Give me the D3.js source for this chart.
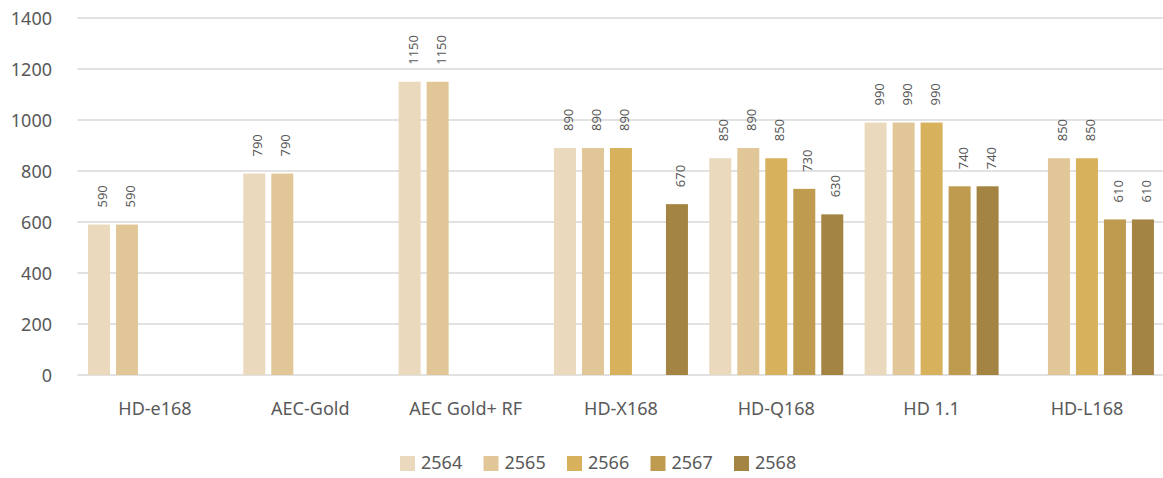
<!DOCTYPE html>
<html><head><meta charset="utf-8">
<script src="https://cdn.jsdelivr.net/npm/d3@7"></script>
<style>
html,body{margin:0;padding:0;background:#fff;}
text{font-family:"Noto Sans",sans-serif;fill:#595959;}
</style></head>
<body>
<svg id="chart" width="1163" height="478"></svg>
<script>
const categories = ["HD-e168","AEC-Gold","AEC Gold+ RF","HD-X168","HD-Q168","HD 1.1","HD-L168"];
const years = ["2564","2565","2566","2567","2568"];
const v2564 = [590, 790, 1150, 890, 850, 990, null];
const v2565 = [590, 790, 1150, 890, 890, 990, 850];
const v2566 = [null, null, null, 890, 850, 990, 850];
const v2567 = [null, null, null, null, 730, 740, 610];
const v2568 = [null, null, null, 670, 630, 740, 610];
const yTicks = [0,200,400,600,800,1000,1200,1400];
const colors = ["#EAD9BC","#E1C797","#D8B15C","#BF9B50","#A38442"];

(function(){
const series = [v2564, v2565, v2566, v2567, v2568];
const svg = d3.select("#chart");
const mLeft = 77.3, mRight = 1164.6, mTop = 18, mBottom = 375;

const x0 = d3.scaleBand().domain(categories).range([mLeft, mRight]);
const groupW = 134;
const x1 = d3.scaleBand().domain(years).range([0, groupW]).paddingInner(6/28);
const y = d3.scaleLinear().domain([0, 1400]).range([mBottom, mTop]);

// gridlines
svg.append("g").selectAll("line").data(yTicks).join("line")
  .attr("x1", mLeft).attr("x2", mRight)
  .attr("y1", d => y(d)).attr("y2", d => y(d))
  .attr("stroke", "#D9D9D9").attr("stroke-width", 1.3);

// y tick labels
svg.append("g").selectAll("text").data(yTicks).join("text")
  .attr("x", 52).attr("y", d => y(d) + 2)
  .attr("text-anchor", "end").attr("dominant-baseline", "middle")
  .style("font-size", "18px").text(d => d);

// bars
const offset = (x0.bandwidth() - groupW) / 2;
const data = [];
categories.forEach((c, i) => {
  years.forEach((yr, j) => {
    const v = series[j][i];
    if (v != null) data.push({c, yr, v, j});
  });
});
const g = svg.append("g");
g.selectAll("rect").data(data).join("rect")
  .attr("x", d => x0(d.c) + offset + x1(d.yr))
  .attr("y", d => y(d.v))
  .attr("width", x1.bandwidth())
  .attr("height", d => y(0) - y(d.v))
  .attr("fill", d => colors[d.j]);

// value labels
g.selectAll("text").data(data).join("text")
  .attr("transform", d => {
    const cx = x0(d.c) + offset + x1(d.yr) + x1.bandwidth()/2;
    return `translate(${cx},${y(d.v) - 17}) rotate(-90)`;
  })
  .attr("dy", "0.62em")
  .attr("text-anchor", "start")
  .style("font-size", "13px")
  .text(d => d.v);

// category labels
svg.append("g").selectAll("text").data(categories).join("text")
  .attr("x", d => x0(d) + x0.bandwidth()/2)
  .attr("y", 415)
  .attr("text-anchor", "middle")
  .style("font-size", "18px")
  .text(d => d);

// legend
const legendX = 400, legendStep = 83.5;
const lg = svg.append("g").selectAll("g").data(years).join("g")
  .attr("transform", (d, i) => `translate(${legendX + i*legendStep},456)`);
lg.append("rect").attr("width", 15).attr("height", 15).attr("fill", (d, i) => colors[i]);
lg.append("text").attr("x", 21).attr("y", 8.5).attr("dominant-baseline", "middle")
  .style("font-size", "18px").text(d => d);
})();
</script>
</body></html>
